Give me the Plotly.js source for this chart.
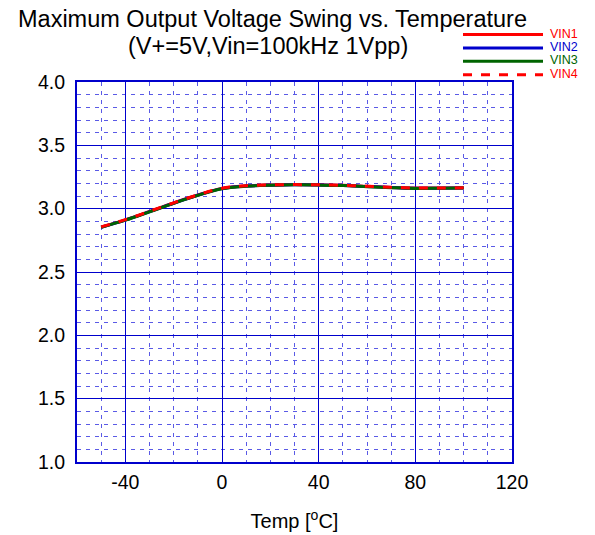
<!DOCTYPE html>
<html><head><meta charset="utf-8">
<script src="https://cdn.plot.ly/plotly-3.0.1.min.js"></script>
<style>body{margin:0;padding:0;background:#fff}#c{width:595px;height:535px}</style>
</head><body><div id="c"></div>
<script>
const temps = [-50,-40,-30,-20,-10,0,10,20,30,40,50,60,70,80,90,100];
const vin1 = [2.855,2.912,2.978,3.045,3.108,3.160,3.180,3.187,3.190,3.188,3.184,3.176,3.168,3.163,3.163,3.165];
const vin2 = [2.853,2.910,2.976,3.043,3.106,3.158,3.178,3.185,3.188,3.187,3.183,3.175,3.167,3.161,3.162,3.164];
const vin3 = [2.852,2.909,2.975,3.042,3.105,3.157,3.177,3.185,3.188,3.186,3.182,3.174,3.166,3.160,3.161,3.163];
const vin4 = [2.856,2.913,2.979,3.046,3.109,3.161,3.181,3.188,3.190,3.188,3.184,3.177,3.169,3.163,3.163,3.165];
const names = ['VIN1','VIN2','VIN3','VIN4'];
const colors = ['#ff0000','#0000cc','#006400','#ff0000'];
const dashes = ['solid','solid','solid','dash'];
const series = [vin1,vin2,vin3,vin4];
const xTicks = [-40,0,40,80,120];
const titleLines = ['Maximum Output Voltage Swing vs. Temperature','(V+=5V,Vin=100kHz 1Vpp)'];

const PL=77, PT=82, PW=435, PH=380;
const px = x => (x-PL)/PW, py = y => (PT+PH-y)/PH;

const traces = series.map((v,i)=>({
  x: temps, y: v, type:'scatter', mode:'lines', name:names[i],
  line:{color:colors[i], width:3, dash:dashes[i], shape:'spline'}
}));

const shapes = [], annotations = [];
names.forEach((n,i)=>{
  const y = 34.5 + i*13.4;
  shapes.push({type:'line', xref:'paper', yref:'paper',
    x0:px(463), x1:px(543), y0:py(y), y1:py(y),
    line:{color:colors[i], width:3, dash:dashes[i]}});
  annotations.push({xref:'paper', yref:'paper', x:px(548), y:py(y-1),
    xanchor:'left', yanchor:'middle', text:n, showarrow:false,
    font:{family:'Liberation Sans, Arial', size:12.5, color:colors[i]}});
});
annotations.push({xref:'paper', yref:'paper', x:px(272), y:py(19), xanchor:'center', yanchor:'middle',
  text:titleLines[0], showarrow:false, font:{family:'Liberation Sans, Arial', size:23.5, color:'#000'}});
annotations.push({xref:'paper', yref:'paper', x:px(268), y:py(46), xanchor:'center', yanchor:'middle',
  text:titleLines[1], showarrow:false, font:{family:'Liberation Sans, Arial', size:23.5, color:'#000'}});

const grid = {showgrid:true, gridcolor:'#0000cc', gridwidth:1,
  showline:true, linecolor:'#0000cc', linewidth:2, mirror:true, zeroline:false, ticks:''};
const minorGrid = {showgrid:true, gridcolor:'#5a5ae6', griddash:'4px,5px', gridwidth:1};

const layout = {
  width:595, height:535,
  margin:{l:PL, r:595-PL-PW, t:PT, b:535-PT-PH},
  paper_bgcolor:'#fff', plot_bgcolor:'#fff',
  showlegend:false,
  font:{family:'Liberation Sans, Arial', color:'#000'},
  xaxis:Object.assign({range:[-60,120], tickvals:xTicks, ticktext:xTicks.map(String),
    minor:Object.assign({dtick:10, tick0:0}, minorGrid),
    ticklabelstandoff:2, tickfont:{size:19.5},
    title:{text:'Temp [<sup>o</sup>C]', font:{size:20}, standoff:22}}, grid),
  yaxis:Object.assign({range:[1,4], dtick:0.5, tick0:1, tickformat:'.1f',
    minor:Object.assign({dtick:0.1, tick0:1}, minorGrid),
    ticklabelstandoff:6, tickfont:{size:19.5}}, grid),
  shapes:shapes, annotations:annotations
};
Plotly.newPlot('c', traces, layout, {displayModeBar:false, staticPlot:true});
</script></body></html>
